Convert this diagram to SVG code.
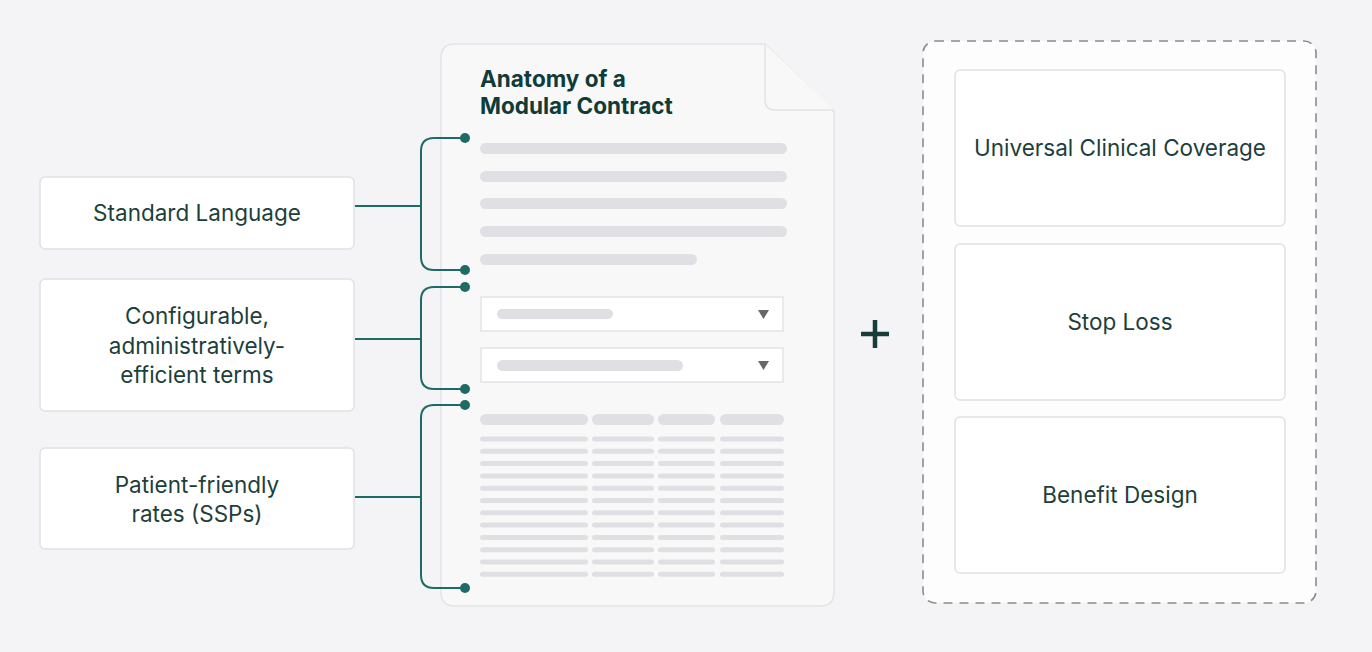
<svg xmlns="http://www.w3.org/2000/svg" width="1372" height="652" viewBox="0 0 1372 652">
<style>
.bg{fill:#f4f4f6}
.box{fill:#ffffff;stroke:#e1e1e4;stroke-width:1.5}
.lbl{font-family:Inter,"Noto Sans","Liberation Sans",sans-serif;font-size:22.5px;fill:#1d3f3c;text-anchor:middle}
.title{font-family:Inter,"Noto Sans","Liberation Sans",sans-serif;font-size:22.5px;font-weight:700;fill:#0f3b38}
.bar{fill:#e0e0e4}
.conn{fill:none;stroke:#1e6b66;stroke-width:2}
.dot{fill:#1e6b66}
</style>
<rect class="bg" x="0" y="0" width="1372" height="652"/>

<g id="document">
<path d="M455 44 H765 L834 112 V592 Q834 606 820 606 H455 Q441 606 441 592 V58 Q441 44 455 44 Z" fill="#f8f8f9" stroke="#e3e3e6" stroke-width="1.5"/>
<path d="M765 44 V100 Q765 110 775 110 H834" fill="#f8f8f9" stroke="#e3e3e6" stroke-width="1.5"/>
<text class="title" x="480" y="87">Anatomy of a</text>
<text class="title" x="480" y="114">Modular Contract</text>
<rect class="bar" x="480" y="143" width="307" height="11" rx="5.5"/>
<rect class="bar" x="480" y="171" width="307" height="11" rx="5.5"/>
<rect class="bar" x="480" y="198" width="307" height="11" rx="5.5"/>
<rect class="bar" x="480" y="226" width="307" height="11" rx="5.5"/>
<rect class="bar" x="480" y="254" width="217" height="11" rx="5.5"/>
<rect x="481" y="297" width="302" height="34" fill="#ffffff" stroke="#e3e3e6" stroke-width="1.5"/>
<rect class="bar" x="497" y="309" width="116" height="10" rx="5"/>
<path d="M758 310 H769 L763.5 319 Z" fill="#666668"/>
<rect x="481" y="348" width="302" height="34" fill="#ffffff" stroke="#e3e3e6" stroke-width="1.5"/>
<rect class="bar" x="497" y="360" width="186" height="11" rx="5.5"/>
<path d="M758 361 H769 L763.5 370 Z" fill="#666668"/>
<g class="bar">
<rect x="480" y="414" width="108" height="11" rx="5.5"/>
<rect x="592" y="414" width="62" height="11" rx="5.5"/>
<rect x="658" y="414" width="57" height="11" rx="5.5"/>
<rect x="720" y="414" width="64" height="11" rx="5.5"/>
</g>
<g class="bar" id="rows">
<rect x="480" y="436.5" width="108" height="5" rx="2.5"/><rect x="592" y="436.5" width="62" height="5" rx="2.5"/><rect x="658" y="436.5" width="57" height="5" rx="2.5"/><rect x="720" y="436.5" width="64" height="5" rx="2.5"/>
<rect x="480" y="448.8" width="108" height="5" rx="2.5"/><rect x="592" y="448.8" width="62" height="5" rx="2.5"/><rect x="658" y="448.8" width="57" height="5" rx="2.5"/><rect x="720" y="448.8" width="64" height="5" rx="2.5"/>
<rect x="480" y="461.1" width="108" height="5" rx="2.5"/><rect x="592" y="461.1" width="62" height="5" rx="2.5"/><rect x="658" y="461.1" width="57" height="5" rx="2.5"/><rect x="720" y="461.1" width="64" height="5" rx="2.5"/>
<rect x="480" y="473.4" width="108" height="5" rx="2.5"/><rect x="592" y="473.4" width="62" height="5" rx="2.5"/><rect x="658" y="473.4" width="57" height="5" rx="2.5"/><rect x="720" y="473.4" width="64" height="5" rx="2.5"/>
<rect x="480" y="485.7" width="108" height="5" rx="2.5"/><rect x="592" y="485.7" width="62" height="5" rx="2.5"/><rect x="658" y="485.7" width="57" height="5" rx="2.5"/><rect x="720" y="485.7" width="64" height="5" rx="2.5"/>
<rect x="480" y="498" width="108" height="5" rx="2.5"/><rect x="592" y="498" width="62" height="5" rx="2.5"/><rect x="658" y="498" width="57" height="5" rx="2.5"/><rect x="720" y="498" width="64" height="5" rx="2.5"/>
<rect x="480" y="510.3" width="108" height="5" rx="2.5"/><rect x="592" y="510.3" width="62" height="5" rx="2.5"/><rect x="658" y="510.3" width="57" height="5" rx="2.5"/><rect x="720" y="510.3" width="64" height="5" rx="2.5"/>
<rect x="480" y="522.6" width="108" height="5" rx="2.5"/><rect x="592" y="522.6" width="62" height="5" rx="2.5"/><rect x="658" y="522.6" width="57" height="5" rx="2.5"/><rect x="720" y="522.6" width="64" height="5" rx="2.5"/>
<rect x="480" y="534.9" width="108" height="5" rx="2.5"/><rect x="592" y="534.9" width="62" height="5" rx="2.5"/><rect x="658" y="534.9" width="57" height="5" rx="2.5"/><rect x="720" y="534.9" width="64" height="5" rx="2.5"/>
<rect x="480" y="547.2" width="108" height="5" rx="2.5"/><rect x="592" y="547.2" width="62" height="5" rx="2.5"/><rect x="658" y="547.2" width="57" height="5" rx="2.5"/><rect x="720" y="547.2" width="64" height="5" rx="2.5"/>
<rect x="480" y="559.5" width="108" height="5" rx="2.5"/><rect x="592" y="559.5" width="62" height="5" rx="2.5"/><rect x="658" y="559.5" width="57" height="5" rx="2.5"/><rect x="720" y="559.5" width="64" height="5" rx="2.5"/>
<rect x="480" y="571.8" width="108" height="5" rx="2.5"/><rect x="592" y="571.8" width="62" height="5" rx="2.5"/><rect x="658" y="571.8" width="57" height="5" rx="2.5"/><rect x="720" y="571.8" width="64" height="5" rx="2.5"/>
</g>
</g>

<g id="connectors">
<path class="conn" d="M465 138 H434 Q421 138 421 151 V257 Q421 270 434 270 H465 M355 206 H421"/>
<circle class="dot" cx="465" cy="138" r="5"/><circle class="dot" cx="465" cy="270" r="5"/>
<path class="conn" d="M465 287 H434 Q421 287 421 300 V376 Q421 389 434 389 H465 M355 339 H421"/>
<circle class="dot" cx="465" cy="287" r="5"/><circle class="dot" cx="465" cy="389" r="5"/>
<path class="conn" d="M465 405 H434 Q421 405 421 418 V575 Q421 588 434 588 H465 M355 497 H421"/>
<circle class="dot" cx="465" cy="405" r="5"/><circle class="dot" cx="465" cy="588" r="5"/>
</g>

<g id="standard-language">
<rect class="box" x="40" y="177" width="314" height="72" rx="5"/>
<text class="lbl" x="197" y="221">Standard Language</text>
</g>
<g id="configurable-terms">
<rect class="box" x="40" y="279" width="314" height="132" rx="5"/>
<text class="lbl" x="197" y="324">Configurable,</text>
<text class="lbl" x="197" y="354">administratively-</text>
<text class="lbl" x="197" y="383">efficient terms</text>
</g>
<g id="patient-friendly-rates">
<rect class="box" x="40" y="448" width="314" height="101" rx="5"/>
<text class="lbl" x="197" y="493">Patient-friendly</text>
<text class="lbl" x="197" y="522">rates (SSPs)</text>
</g>

<g id="plus">
<path d="M861 334 H889 M875 320 V348" stroke="#163d3a" stroke-width="4.5" fill="none"/>
</g>

<g id="addons">
<rect x="923" y="41" width="393" height="562" rx="12" fill="#fdfdfd" stroke="#8c8c8e" stroke-width="1.6" stroke-dasharray="9 7"/>
</g>
<g id="universal-clinical-coverage">
<rect class="box" x="955" y="70" width="330" height="156" rx="5"/>
<text class="lbl" x="1120" y="156">Universal Clinical Coverage</text>
</g>
<g id="stop-loss">
<rect class="box" x="955" y="244" width="330" height="156" rx="5"/>
<text class="lbl" x="1120" y="330">Stop Loss</text>
</g>
<g id="benefit-design">
<rect class="box" x="955" y="417" width="330" height="156" rx="5"/>
<text class="lbl" x="1120" y="503">Benefit Design</text>
</g>
</svg>
